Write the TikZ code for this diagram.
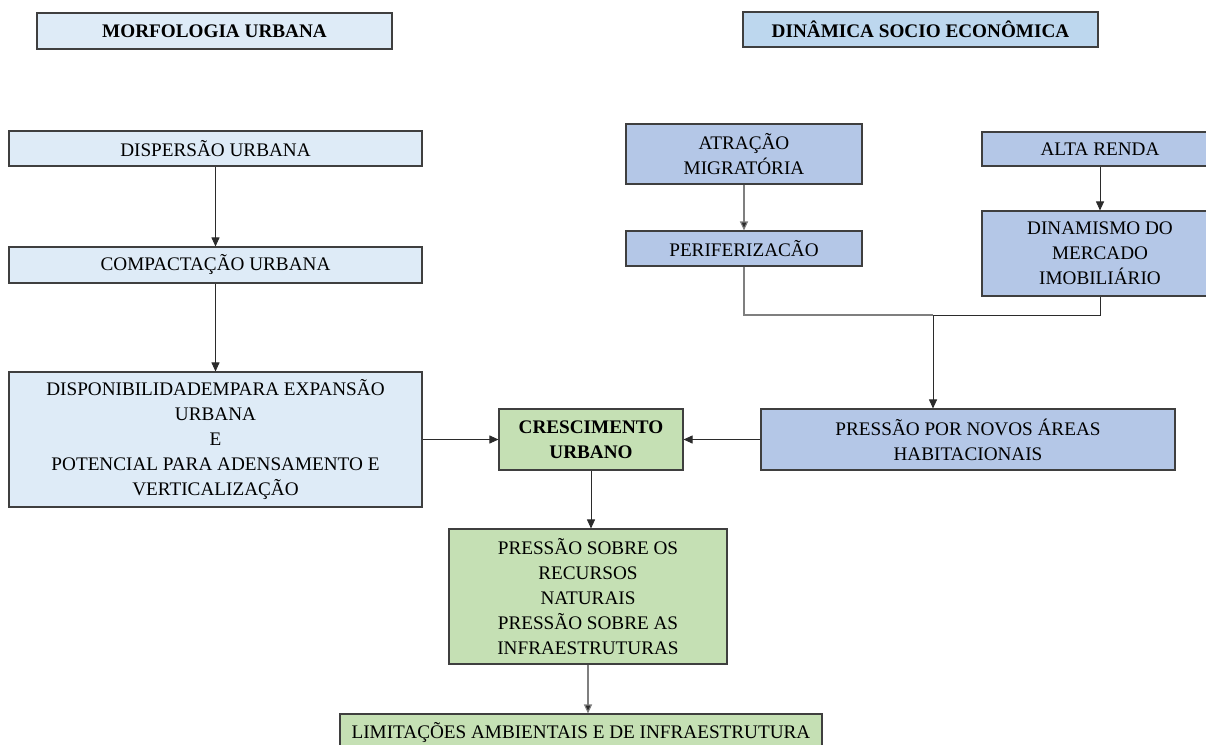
\documentclass[tikz,border=0pt]{standalone}
\usepackage{fontspec}
\setmainfont{Liberation Serif}
\usetikzlibrary{arrows.meta}
\definecolor{paleblue}{HTML}{DEEBF7}
\definecolor{skyblue}{HTML}{BDD7EE}
\definecolor{midblue}{HTML}{B4C7E7}
\definecolor{palegreen}{HTML}{C5E0B4}
\definecolor{edge}{HTML}{3F3F3F}
\definecolor{linkdark}{HTML}{2B2B2B}
\definecolor{linkgrey}{HTML}{7F7F7F}
\begin{document}
\begin{tikzpicture}[x=1pt,y=-1pt,
  box/.style={draw=edge, line width=1.1pt, inner sep=0pt, align=center,
    font=\fontsize{19.2}{25}\selectfont},
  boldbox/.style={box, font=\fontsize{19.2}{25}\selectfont\bfseries},
  arr/.style={draw=linkdark, line width=0.9pt, -{Triangle[length=9pt,width=8pt]}},
  arrg/.style={draw=linkgrey, line width=1.1pt, -{Triangle[length=9pt,width=8pt,fill=linkdark]}},
  link/.style={draw=linkdark, line width=0.9pt},
  linkg/.style={draw=linkgrey, line width=1.1pt}]
\useasboundingbox (0,0) rectangle (1206,744);

% headings
\node[boldbox, fill=paleblue, minimum width=355pt, minimum height=36pt] (morf) at (214.5,31) {MORFOLOGIA URBANA};
\node[boldbox, fill=skyblue, minimum width=355pt, minimum height=35pt] (din) at (920.5,29.5) {DINÂMICA SOCIO ECONÔMICA};

% urban morphology column
\node[box, fill=paleblue, minimum width=413pt, minimum height=35pt] (disp) at (215.5,148.5) {DISPERSÃO URBANA};
\node[box, fill=paleblue, minimum width=413pt, minimum height=36pt] (comp) at (215.5,265) {COMPACTAÇÃO URBANA};
\node[box, fill=paleblue, minimum width=413pt, minimum height=135pt] (dispon) at (215.5,439.5)
  {DISPONIBILIDADEMPARA EXPANSÃO\\URBANA\\E\\POTENCIAL PARA ADENSAMENTO E\\VERTICALIZAÇÃO};

% socio-economic column
\node[box, fill=midblue, minimum width=236pt, minimum height=60pt] (atr) at (744,154) {ATRAÇÃO\\MIGRATÓRIA};
\node[box, fill=midblue, minimum width=236pt, minimum height=35pt] (peri) at (744,248.5) {PERIFERIZACÃO};
\node[box, fill=midblue, minimum width=236pt, minimum height=34pt] (alta) at (1100,149) {ALTA RENDA};
\node[box, fill=midblue, minimum width=236pt, minimum height=85pt] (dinam) at (1100,253.5) {DINAMISMO DO\\MERCADO\\IMOBILIÁRIO};
\node[box, fill=midblue, minimum width=414pt, minimum height=61pt] (pnov) at (968,439.5) {PRESSÃO POR NOVOS ÁREAS\\HABITACIONAIS};

% outcome chain
\node[boldbox, fill=palegreen, minimum width=184pt, minimum height=61pt] (cresc) at (591,439.5) {CRESCIMENTO\\URBANO};
\node[box, fill=palegreen, minimum width=278pt, minimum height=135pt] (psob) at (588,596.5)
  {PRESSÃO SOBRE OS\\RECURSOS\\NATURAIS\\PRESSÃO SOBRE AS\\INFRAESTRUTURAS};
\node[box, fill=palegreen, minimum width=482pt, minimum height=36pt] (lim) at (581,732) {LIMITAÇÕES AMBIENTAIS E DE INFRAESTRUTURA};

% connectors
\coordinate (join) at (933,315);
\draw[arr] (disp) -- (comp);
\draw[arr] (comp) -- (dispon);
\draw[arr] (dispon) -- (cresc);
\draw[arr] (pnov) -- (cresc);
\draw[arrg] (atr) -- (peri);
\draw[arr] (alta) -- (dinam);
\draw[linkg] (peri.south) |- (join);
\draw[link] (join) -| (dinam.south);
\draw[arr] (join) -- (join |- pnov.north);
\draw[arr] (cresc) -- (cresc |- psob.north);
\draw[arrg] (psob.south) -- (psob.south |- lim.north);
\end{tikzpicture}
\end{document}
